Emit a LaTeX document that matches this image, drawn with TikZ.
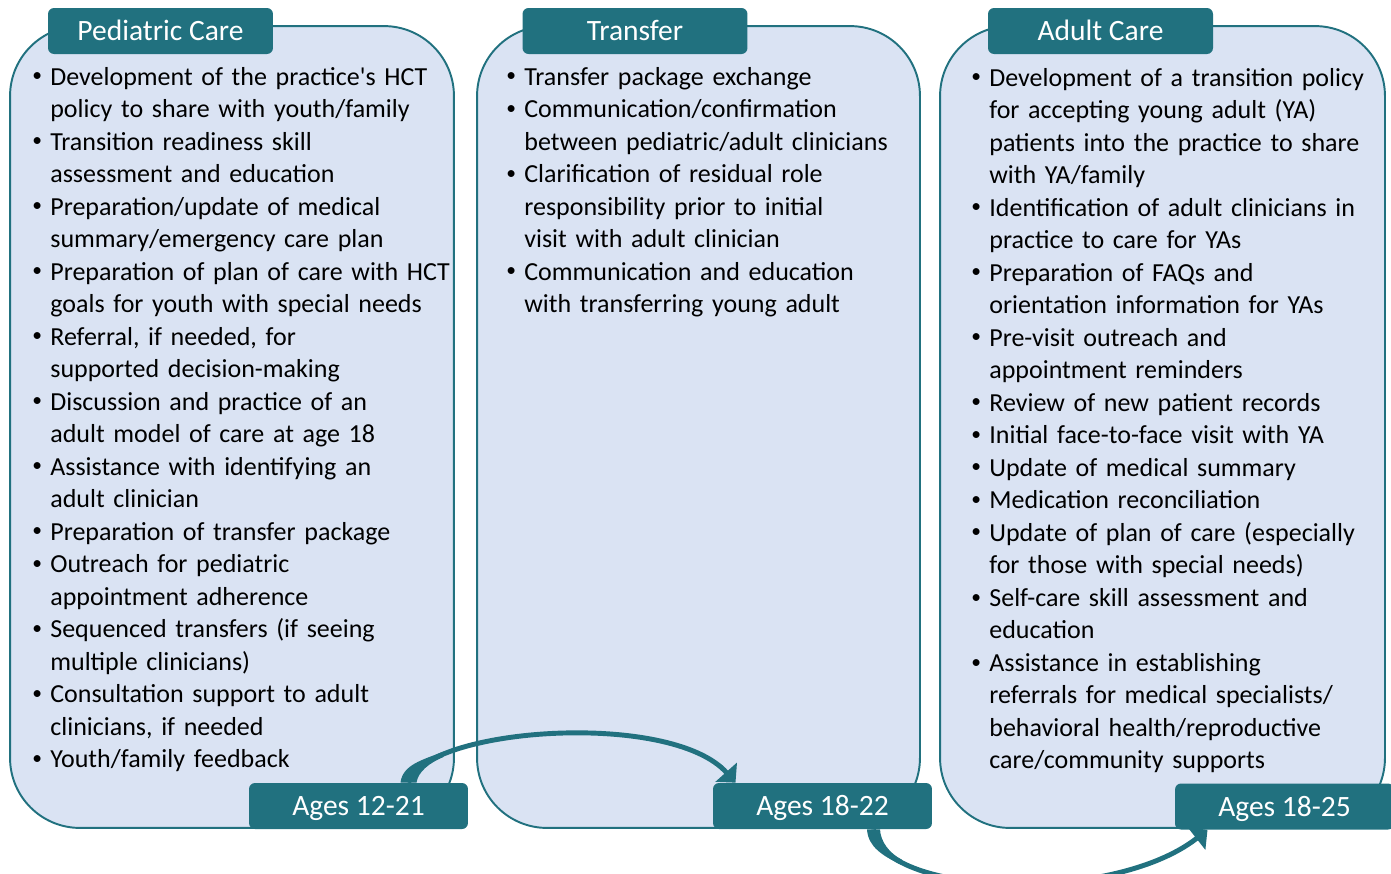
\documentclass[tikz,border=0pt]{standalone}
\usepackage{fontspec}
\setmainfont{Carlito}
\usetikzlibrary{arrows.meta,calc}
\definecolor{hctteal}{HTML}{21717F}
\definecolor{hctfill}{HTML}{DAE3F3}
\newlength{\bulind}
\setlength{\bulind}{0.4cm}
\newcommand{\bitem}{\par\hangindent=\bulind\hangafter=1\noindent\makebox[\bulind][l]{\hspace{0.04cm}\raisebox{0.12em}{\scalebox{0.75}{\textbullet}}}\strut}
\tikzset{
	panel/.style={draw=hctteal,line width=1.1pt,fill=hctfill,rounded corners=1.4cm,minimum width=8.88cm,minimum height=16.04cm,inner sep=0pt},
	tab/.style={fill=hctteal,text=white,rounded corners=0.12cm,minimum width=4.5cm,minimum height=0.92cm,inner sep=0pt,text height=10.8pt,text depth=0pt,font=\fontsize{16.8}{20}\selectfont},
	agebox/.style={tab,minimum width=4.38cm},
	steps/.style={anchor=north west,inner sep=0pt,text width=9cm,font=\fontsize{14.8}{18.5}\selectfont},
	flow/.style={hctteal,line width=2.8pt,-{Triangle[width=16pt,length=8pt]}},
	taper/.style={fill=hctteal}
}
\begin{document}
\begin{tikzpicture}[x=0.02cm,y=-0.02cm]
		\useasboundingbox (0,0) rectangle (1391,873);
		\clip (0,0) rectangle (1391,873);
		% panels
			\node [panel] (pedP) at (232,427) {};
			\node [panel, minimum width=8.86cm] (trnP) at (698.5,427) {};
			\node [panel, minimum width=8.9cm] (adlP) at (1162.5,427) {};
		% pediatric steps
			\node [steps] (pedS) at (30,52.2) {\raggedright
				\bitem Development of the practice\textquotesingle s HCT\newline policy to share with youth/family
				\bitem Transition readiness skill\newline assessment and education
				\bitem Preparation/update of medical\newline summary/emergency care plan
				\bitem Preparation of plan of care with HCT\newline goals for youth with special needs
				\bitem Referral, if needed, for\newline supported decision-making
				\bitem Discussion and practice of an\newline adult model of care at age 18
				\bitem Assistance with identifying an\newline adult clinician
				\bitem Preparation of transfer package
				\bitem Outreach for pediatric\newline appointment adherence
				\bitem Sequenced transfers (if seeing\newline multiple clinicians)
				\bitem Consultation support to adult\newline clinicians, if needed
				\bitem Youth/family feedback\par};
		% transfer steps
			\node [steps] (trnS) at (504,52.2) {\raggedright
				\bitem Transfer package exchange
				\bitem Communication/confirmation\newline between pediatric/adult clinicians
				\bitem Clarification of residual role\newline responsibility prior to initial\newline visit with adult clinician
				\bitem Communication and education\newline with transferring young adult\par};
		% adult steps
			\node [steps] (adlS) at (969,53.2) {\raggedright
				\bitem Development of a transition policy\newline for accepting young adult (YA)\newline patients into the practice to share\newline with YA/family
				\bitem Identification of adult clinicians in\newline practice to care for YAs
				\bitem Preparation of FAQs and\newline orientation information for YAs
				\bitem Pre-visit outreach and\newline appointment reminders
				\bitem Review of new patient records
				\bitem Initial face-to-face visit with YA
				\bitem Update of medical summary
				\bitem Medication reconciliation
				\bitem Update of plan of care (especially\newline for those with special needs)
				\bitem Self-care skill assessment and\newline education
				\bitem Assistance in establishing\newline referrals for medical specialists/\newline behavioral health/reproductive\newline care/community supports\par};
		% tabs
			\node [tab] (pedT) at (160.5,31) {Pediatric Care};
			\node [tab] (trnT) at (635,31) {Transfer};
			\node [tab] (adlT) at (1100.5,31) {Adult Care};
		% ages
			\node [agebox] (pedA) at (358.5,806) {Ages 12-21};
			\node [agebox] (trnA) at (822.5,806) {Ages 18-22};
			\node [agebox] (adlA) at (1284.5,806.5) {Ages 18-25};
		% arrows
			\draw [flow] ($(pedA.north)+(50,0)$) .. controls +(16,-55) and +(-65,-73) .. ($(trnA.north)+(-87,0)$);
			\fill [taper] ($(pedA.north)+(42,0)$) .. controls +(2,-18) and +(-18.5,7.4) .. ($(pedA.north)+(83,-30.3)$)
				-- ($(pedA.north)+(85,-25.7)$) .. controls +(-13.8,5.7) and +(1.5,-11) .. ($(pedA.north)+(58,0)$) -- cycle;
			\draw [flow] ($(trnA.south)+(51,0)$) .. controls +(5,66) and +(-97,76) .. ($(adlA.south)+(-77,0)$);
			\fill [taper] ($(trnA.south)+(44.5,0)$) .. controls +(1,18) and +(-16,-8.3) .. ($(trnA.south)+(77.1,34.8)$)
				-- ($(trnA.south)+(79.5,30.4)$) .. controls +(-13,-6.7) and +(0.5,12) .. ($(trnA.south)+(57.5,0)$) -- cycle;
	\end{tikzpicture}
\end{document}
